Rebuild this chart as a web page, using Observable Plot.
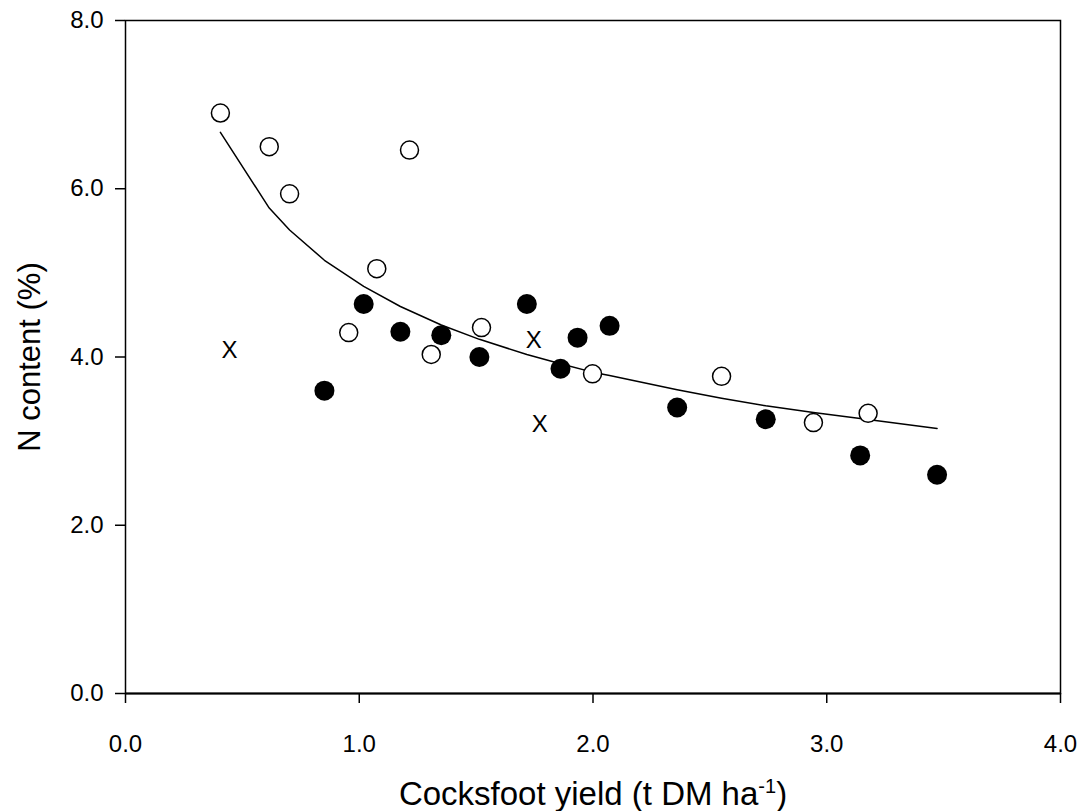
<!DOCTYPE html>
<html>
<head>
<meta charset="utf-8">
<script src="https://cdn.jsdelivr.net/npm/d3@7"></script>
<script src="https://cdn.jsdelivr.net/npm/@observablehq/plot@0.6"></script>
<style>
  html, body { margin: 0; padding: 0; background: white; }
</style>
</head>
<body>
<div id="chart"></div>
<script>
// Open circles
const openX = [0.406, 0.615, 0.702, 0.955, 1.075, 1.215, 1.308, 1.523, 1.998, 2.550, 2.943, 3.177];
const openY = [6.90, 6.50, 5.94, 4.29, 5.05, 6.46, 4.03, 4.35, 3.80, 3.77, 3.22, 3.33];
// Filled circles
const filledX = [0.851, 1.019, 1.176, 1.351, 1.514, 1.717, 1.861, 1.934, 2.071, 2.360, 2.739, 3.143, 3.472];
const filledY = [3.60, 4.63, 4.30, 4.26, 4.00, 4.63, 3.86, 4.23, 4.37, 3.40, 3.26, 2.83, 2.60];
// "X" markers
const crossX = [0.445, 1.747, 1.772];
const crossY = [4.08, 4.20, 3.20];
// Fitted curve
const fitX = [0.406, 0.615, 0.702, 0.851, 1.019, 1.176, 1.351, 1.514, 1.717, 1.861, 1.998, 2.071, 2.360, 2.550, 2.739, 2.943, 3.143, 3.472];
const fitY = [6.67, 5.77, 5.51, 5.15, 4.84, 4.60, 4.38, 4.21, 4.03, 3.92, 3.82, 3.78, 3.61, 3.51, 3.42, 3.34, 3.27, 3.15];
// Ticks
const xTicks = [0, 1, 2, 3, 4];
const yTicks = [0, 2, 4, 6, 8];
const xTitle = "Cocksfoot yield (t DM ha-1)";
const yTitle = "N content (%)";

const openData = openX.map((x, i) => ({x, y: openY[i]}));
const filledData = filledX.map((x, i) => ({x, y: filledY[i]}));
const crossData = crossX.map((x, i) => ({x, y: crossY[i]}));
const fitData = fitX.map((x, i) => ({x, y: fitY[i]}));

const plot = Plot.plot({
  width: 1086,
  height: 811,
  marginLeft: 125,
  marginRight: 26,
  marginTop: 20,
  marginBottom: 118,
  style: {fontFamily: "'Liberation Sans', Arial, sans-serif", color: "black", background: "white"},
  x: {domain: [0, 4]},
  y: {domain: [0, 8]},
  marks: [
    Plot.frame({stroke: "black", strokeWidth: 1.5}),
    Plot.ruleY([0], {stroke: "black", strokeWidth: 2}),
    Plot.axisX({ticks: xTicks, tickFormat: d => d.toFixed(1), tickSize: 10, tickPadding: 31, fontSize: 24, label: null, strokeWidth: 1.5}),
    Plot.axisY({ticks: yTicks, tickFormat: d => d.toFixed(1), tickSize: 10, tickPadding: 12, fontSize: 24, label: null, strokeWidth: 1.5}),
    Plot.line(fitData, {x: "x", y: "y", stroke: "black", strokeWidth: 1.5}),
    Plot.dot(openData, {x: "x", y: "y", r: 9, fill: "white", stroke: "black", strokeWidth: 1.5}),
    Plot.dot(filledData, {x: "x", y: "y", r: 10, fill: "black", stroke: "none"}),
    Plot.text(crossData, {x: "x", y: "y", text: () => "X", fontSize: 24, fill: "black"}),
    Plot.text([yTitle], {frameAnchor: "left", textAnchor: "middle", lineAnchor: "middle", dx: -95, rotate: -90, fontSize: 31, fill: "black"}),
    Plot.text([xTitle], {frameAnchor: "bottom", textAnchor: "middle", lineAnchor: "middle", dy: 101, fontSize: 33, fill: "black"})
  ]
});

// superscript for "ha-1"
plot.querySelectorAll("text").forEach(t => {
  if (t.textContent === xTitle) {
    t.textContent = "";
    const ns = "http://www.w3.org/2000/svg";
    const a = document.createElementNS(ns, "tspan");
    a.textContent = "Cocksfoot yield (t DM ha";
    const b = document.createElementNS(ns, "tspan");
    b.textContent = "-1";
    b.setAttribute("font-size", "20");
    b.setAttribute("dy", "-12");
    const c = document.createElementNS(ns, "tspan");
    c.textContent = ")";
    c.setAttribute("dy", "12");
    t.append(a, b, c);
  }
});

document.getElementById("chart").append(plot);
</script>
</body>
</html>
